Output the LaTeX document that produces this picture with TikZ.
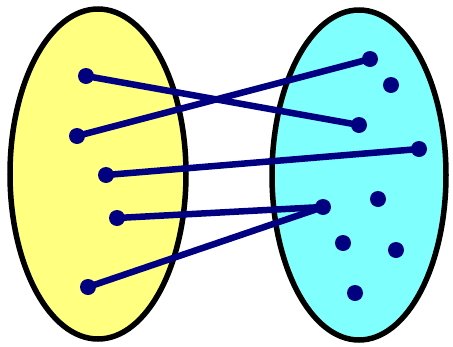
\documentclass[tikz,border=0pt]{standalone}
\usetikzlibrary{shapes.geometric}
\definecolor{setyellow}{HTML}{FFFF80}
\definecolor{setcyan}{HTML}{80FFFF}
\definecolor{dotnavy}{HTML}{000080}
\begin{document}
\begin{tikzpicture}[x=1pt,y=-1pt,
  setshape/.style={draw=black,line width=5.5pt},
  pt/.style={circle,fill=dotnavy,minimum size=16pt,inner sep=0pt,outer sep=0pt},
  mapline/.style={draw=dotnavy,line width=6.5pt,shorten <=-3pt,shorten >=-3pt}]
\useasboundingbox (0,0) rectangle (453,346);
\fill[white] (0,0) rectangle (453,346);
\draw[setshape,fill=setyellow] (98,174) ellipse [x radius=88, y radius=165];
\draw[setshape,fill=setcyan] (359,175) ellipse [x radius=87, y radius=165];
% left set
\node[pt] (a1) at (86,76) {};
\node[pt] (a2) at (77,136) {};
\node[pt] (a3) at (106,175) {};
\node[pt] (a4) at (117,218) {};
\node[pt] (a5) at (88,287) {};
% right set
\node[pt] (b1) at (370,59) {};
\node[pt] (b2) at (391,85) {};
\node[pt] (b3) at (359,125) {};
\node[pt] (b4) at (419,149) {};
\node[pt] (b5) at (323,207) {};
\node[pt] (b6) at (378,199) {};
\node[pt] (b7) at (343,243) {};
\node[pt] (b8) at (396,250) {};
\node[pt] (b9) at (355,293) {};
% mappings
\draw[mapline] (a1) -- (b3);
\draw[mapline] (a2) -- (b1);
\draw[mapline] (a3) -- (b4);
\draw[mapline] (a4) -- (b5);
\draw[mapline] (a5) -- (b5);
\end{tikzpicture}
\end{document}
